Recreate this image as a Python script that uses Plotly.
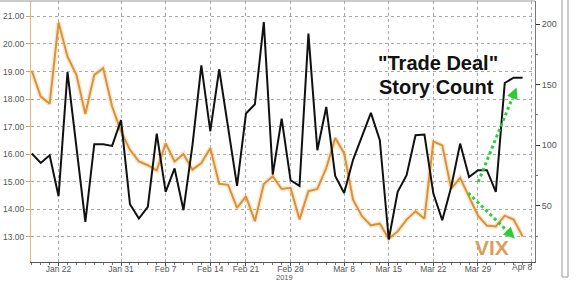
import pandas as pd
import plotly.graph_objects as go

# ---- data -------------------------------------------------------------
holidays = ["2019-01-21", "2019-02-18"]
dates = [d for d in pd.bdate_range("2019-01-16", "2019-04-08").strftime("%Y-%m-%d")
         if d not in holidays]

vix = [19.03, 18.09, 17.83, 20.78, 19.54, 18.88, 17.46, 18.88, 19.12, 17.73,
       16.83, 16.16, 15.74, 15.60, 15.41, 16.40, 15.74, 16.01, 15.44, 15.68,
       16.22, 14.93, 14.89, 14.05, 14.47, 13.57, 14.92, 15.20, 14.74, 14.78,
       13.63, 14.66, 14.74, 15.50, 16.59, 16.04, 14.35, 13.75, 13.42, 13.48,
       12.93, 13.20, 13.63, 13.93, 13.66, 16.46, 16.32, 14.75, 15.14, 14.47,
       13.77, 13.41, 13.38, 13.77, 13.63, 13.02]

story_count = [93.2, 85.5, 91.8, 58.0, 160.4, 98.6, 36.8, 100.9, 100.9, 99.5,
               120.7, 51.4, 39.6, 49.2, 109.7, 61.6, 80.9, 46.5, 100.0, 166.0,
               111.6, 162.7, 115.1, 66.5, 126.2, 133.8, 201.6, 75.9, 122.0, 71.2,
               66.5, 192.1, 95.9, 131.6, 74.8, 60.7, 88.0, 108.0, 126.7, 104.2,
               22.3, 61.6, 75.3, 108.3, 108.9, 60.2, 38.2, 65.7, 101.4, 73.9,
               79.5, 79.5, 61.6, 151.4, 155.8, 155.8]

tick_dates = ["2019-01-22", "2019-01-31", "2019-02-07", "2019-02-14", "2019-02-21",
              "2019-02-28", "2019-03-08", "2019-03-15", "2019-03-22", "2019-03-29",
              "2019-04-08"]
tick_labels = ["Jan 22", "Jan 31", "Feb 7", "Feb 14", "Feb 21",
               "Feb 28", "Mar 8", "Mar 15", "Mar 22", "Mar 29", "Apr 8"]

vix_ticks = [13, 14, 15, 16, 17, 18, 19, 20, 21]
count_ticks = [50, 100, 150, 200]
count_minor = [25, 75, 125, 175]

# ---- build ------------------------------------------------------------
pos = {d: i for i, d in enumerate(dates)}
x_vix = [pos[d] for d in dates[:len(vix)]]
x_cnt = [pos[d] for d in dates[:len(story_count)]]
tickpos = [pos[d] for d in tick_dates]

ORANGE = "#D8933A"
FONT = "Liberation Sans"

fig = go.Figure()
fig.add_trace(go.Scatter(x=x_vix, y=vix, mode="lines", yaxis="y",
                         line=dict(color="rgba(240,190,120,0.35)", width=5),
                         hoverinfo="skip", showlegend=False))
fig.add_trace(go.Scatter(x=x_vix, y=vix, mode="lines", yaxis="y", name="VIX",
                         line=dict(color=ORANGE, width=2), showlegend=False))
fig.add_trace(go.Scatter(x=x_cnt, y=story_count, mode="lines", yaxis="y2",
                         name="Trade Deal Story Count",
                         line=dict(color="#111111", width=2), showlegend=False))

# tick labels: last one drawn as annotation (shifted inside as in the original)
ticktext = tick_labels[:-1] + [""]

fig.update_layout(
    width=580, height=282,
    margin=dict(l=31, r=45, t=1, b=20),
    paper_bgcolor="white", plot_bgcolor="white",
    xaxis=dict(range=[-0.09, 56.39], tickmode="array", tickvals=tickpos,
               ticktext=ticktext, ticks="outside", ticklen=3, tickcolor="#555",
               ticklabelstandoff=-4,
               showgrid=True, gridcolor="#A8A8A8", griddash="dot", gridwidth=1,
               showline=True, linecolor="#555", linewidth=1, zeroline=False,
               tickfont=dict(family=FONT, size=8.5, color="#555"),
               minor=dict(dtick=1, tick0=0, ticks="outside", ticklen=2,
                          tickcolor="#777", showgrid=False)),
    yaxis=dict(range=[12.09, 21.56], tickmode="array", tickvals=vix_ticks,
               tickformat=".2f", ticks="outside", ticklen=4, tickcolor="#D9A55A",
               showgrid=True, gridcolor="#A8A8A8", griddash="dot", gridwidth=1,
               showline=True, linecolor="#E0B878", linewidth=1, zeroline=False,
               tickfont=dict(family=FONT, size=8.5, color="#555")),
    yaxis2=dict(range=[3.77, 219.0], overlaying="y", side="right",
                tickmode="array", tickvals=count_ticks, ticks="outside",
                ticklen=4, tickcolor="#333", showgrid=False, zeroline=False,
                showline=True, linecolor="#777", linewidth=1,
                tickfont=dict(family=FONT, size=9, color="#555"),
                minor=dict(tickvals=count_minor, ticks="outside", ticklen=2,
                           tickcolor="#777")),
)

annotations = [
    dict(text="Apr 8", x=55, y=-0.02, xref="x", yref="paper", showarrow=False,
         yanchor="middle", font=dict(family=FONT, size=8.5, color="#555")),
    dict(text="2019", x=28.3, y=-0.061, xref="x", yref="paper", showarrow=False,
         yanchor="middle", borderpad=0,
         font=dict(family=FONT, size=7.5, color="#555")),
    dict(text="\"Trade Deal\"", x=45.55, y=0.763, xref="x", yref="paper",
         showarrow=False, yanchor="middle",
         font=dict(family=FONT, size=20, color="#111", weight="bold")),
    dict(text="Story Count", x=45.4, y=0.671, xref="x", yref="paper",
         showarrow=False, yanchor="middle",
         font=dict(family=FONT, size=20, color="#111", weight="bold")),
    dict(text="VIX", x=51.6, y=0.054, xref="x", yref="paper", showarrow=False,
         yanchor="middle",
         font=dict(family=FONT, size=21, color="#D9A05A", weight="bold")),
]

GREEN = "#2FCC3A"
arrows = [((50.03, 69.8), (54.33, 147.7)), ((48.91, 60.7), (54.14, 23.1))]
shapes = []
for (x0, y0), (x1, y1) in arrows:
    shapes.append(dict(type="line", xref="x", yref="y2", x0=x0, y0=y0,
                       x1=x0 + (x1 - x0) * 0.93, y1=y0 + (y1 - y0) * 0.93,
                       line=dict(color=GREEN, width=3, dash="dot")))
    annotations.append(dict(x=x1, y=y1, xref="x", yref="y2",
                            ax=x0 + (x1 - x0) * 0.88, ay=y0 + (y1 - y0) * 0.88,
                            axref="x", ayref="y2", showarrow=True, text="",
                            arrowhead=2, arrowsize=0.9, arrowwidth=2.5,
                            arrowcolor=GREEN))

# top frame line and right-hand scrollbar of the terminal window
shapes.append(dict(type="line", xref="paper", yref="paper", x0=-0.062, x1=1.0,
                   y0=1.0, y1=1.0, line=dict(color="#999", width=1)))
shapes.append(dict(type="rect", xref="paper", yref="paper", x0=1.0536, x1=1.0655,
                   y0=-0.0575, y1=1.01, line=dict(color="#999", width=1),
                   fillcolor="white"))

fig.update_layout(annotations=annotations, shapes=shapes)
fig.write_html("out.html")
